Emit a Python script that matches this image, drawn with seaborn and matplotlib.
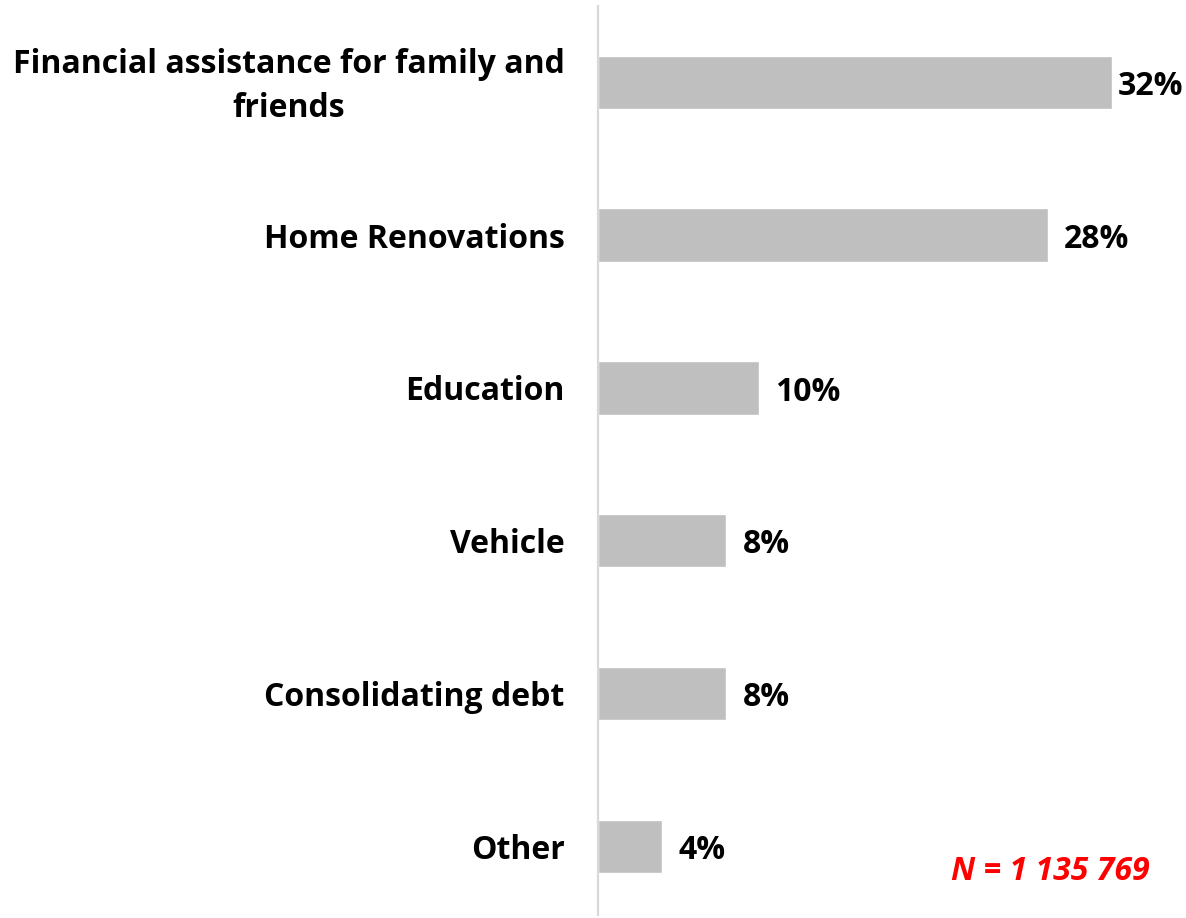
import matplotlib
matplotlib.use("Agg")
import matplotlib.pyplot as plt
import matplotlib.transforms as mtransforms
import seaborn as sns
import pandas as pd

categories = [
    "Financial assistance for family and\nfriends",
    "Home Renovations",
    "Education",
    "Vehicle",
    "Consolidating debt",
    "Other",
]
shares = [32, 28, 10, 8, 8, 4]
value_labels = ["32%", "28%", "10%", "8%", "8%", "4%"]
sample_note = "N = 1 135 769"

df = pd.DataFrame({"category": categories, "share": shares})

sns.set_theme(style="white")
plt.rcParams["font.family"] = ["Open Sans", "DejaVu Sans"]

fig = plt.figure(figsize=(11.86, 9.18), dpi=100)
ax = fig.add_axes([598 / 1186, 1 - 915 / 918, (1176 - 598) / 1186, (915 - 6) / 918])

sns.barplot(data=df, x="share", y="category", orient="h", color="#BFBFBF",
            saturation=1, width=0.35, ax=ax)

ax.set_xlim(0, 36)
ax.set_ylim(5.45, -0.5)
ax.set_xlabel("")
ax.set_ylabel("")
ax.set_xticks([])

for s in ["top", "right", "bottom"]:
    ax.spines[s].set_visible(False)
ax.spines["left"].set_color("#D9D9D9")
ax.spines["left"].set_linewidth(1.6)

ax.tick_params(axis="y", length=0, pad=24)
for lbl in ax.get_yticklabels():
    lbl.set_fontsize(23)
    lbl.set_fontweight("bold")
    lbl.set_color("black")
    lbl.set_multialignment("center")
    lbl.set_linespacing(1.45)
    if "\n" in lbl.get_text():
        # lift the two-line label so it sits centred on its bar
        lbl.set_transform(lbl.get_transform() +
                          mtransforms.ScaledTranslation(0, 4 / 72, fig.dpi_scale_trans))

# the longest bar leaves little room at the right edge, so its label sits closer
label_gaps = [4, 12, 12, 12, 12, 12]
for i, (v, t, g) in enumerate(zip(shares, value_labels, label_gaps)):
    ax.annotate(t, xy=(v, i), xytext=(g, -3), textcoords="offset points",
                ha="left", va="center", fontsize=23, fontweight="bold",
                color="black")

fig.text(1150 / 1186, 1 - 871 / 918, sample_note, ha="right", va="center",
         fontsize=23, fontweight="bold", fontstyle="italic", color="#FF0000")

fig.savefig("out.png", dpi=100, facecolor="white")
